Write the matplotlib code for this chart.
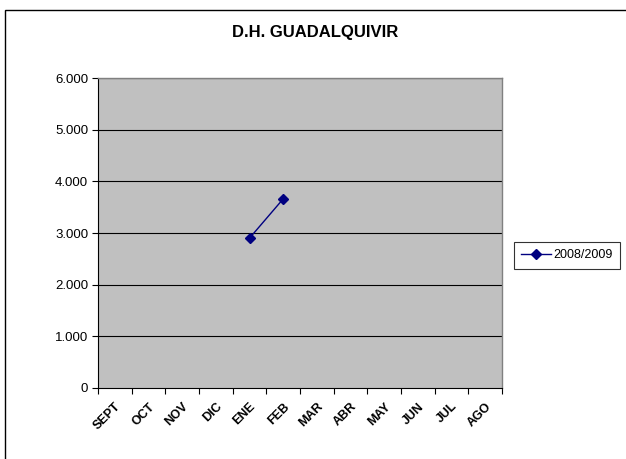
import matplotlib
matplotlib.use("Agg")
import matplotlib.pyplot as plt
from matplotlib.patches import Rectangle
import numpy as np

plt.rcParams['font.family'] = ['Liberation Sans', 'DejaVu Sans']

months = ["SEPT", "OCT", "NOV", "DIC", "ENE", "FEB", "MAR", "ABR", "MAY", "JUN", "JUL", "AGO"]
values_2008_2009 = [None, None, None, None, 2900, 3660, None, None, None, None, None, None]
yticks = [0, 1000, 2000, 3000, 4000, 5000, 6000]
ytick_labels = ["0", "1.000", "2.000", "3.000", "4.000", "5.000", "6.000"]
series_name = "2008/2009"

W, H = 626, 459
fig = plt.figure(figsize=(W / 100, H / 100), dpi=100)
fig.patch.set_facecolor("white")

# outer chart frame
fig.patches.append(Rectangle((5 / W, -0.01), 1.02, 1 - 10 / H + 0.01, transform=fig.transFigure,
                             fill=False, edgecolor="black", linewidth=1.0))

left, right, top, bottom = 98, 502, 78, 388
ax = fig.add_axes([left / W, 1 - bottom / H, (right - left) / W, (bottom - top) / H])
ax.set_facecolor("#C0C0C0")

x = np.arange(len(months))
y = np.array([np.nan if v is None else v for v in values_2008_2009], dtype=float)
ax.plot(x, y, color="#000080", linewidth=1.0, marker="D", markersize=5,
        markerfacecolor="#000080", markeredgecolor="#000080", label=series_name)

ax.set_xlim(-0.5, len(months) - 0.5)
ax.set_ylim(0, 6000)
ax.set_yticks(yticks)
ax.set_yticklabels(ytick_labels, fontsize=9.5)
for yt in yticks[1:]:
    ax.axhline(yt, color="black", linewidth=0.8, zorder=1)

ax.set_xticks(np.arange(len(months) + 1) - 0.5, minor=False)
ax.set_xticklabels([])
ax.set_xticks(x, minor=True)
ax.set_xticklabels(months, minor=True, rotation=45, ha="right", rotation_mode="anchor",
                   fontsize=9, fontweight="bold")
ax.tick_params(axis="x", which="minor", length=0, pad=9)
ax.tick_params(axis="x", which="major", length=4, direction="out", color="black")
ax.tick_params(axis="y", length=4, direction="out", color="black", pad=3)
for side in ["top", "right"]:
    ax.spines[side].set_color("#808080")
    ax.spines[side].set_linewidth(1.0)
ax.spines["left"].set_color("black")
ax.spines["bottom"].set_color("black")

fig.text(315 / W, 1 - 32 / H, "D.H. GUADALQUIVIR", ha="center", va="center",
         fontsize=12, fontweight="bold")

leg = fig.legend(loc="center", bbox_to_anchor=(567 / W, 1 - 255 / H), fontsize=9,
                 frameon=True, fancybox=False, edgecolor="black", borderpad=0.6,
                 handlelength=2.4, handletextpad=0.2, borderaxespad=0)
leg.get_frame().set_linewidth(0.8)

fig.savefig("out.png", dpi=100)
